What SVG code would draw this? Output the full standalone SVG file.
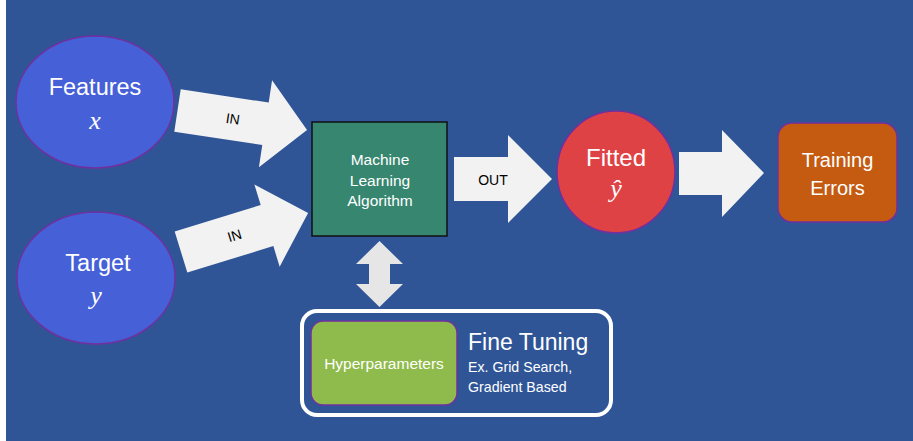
<svg xmlns="http://www.w3.org/2000/svg" width="913" height="441" viewBox="0 0 913 441">
<style>
  .lbl { font-family: "Liberation Sans", Arial, sans-serif; fill: #ffffff; text-anchor: middle; dominant-baseline: central; }
  .math { font-family: "Liberation Serif", "Times New Roman", serif; font-style: italic; fill: #ffffff; text-anchor: middle; dominant-baseline: central; }
  .arr { fill: #F2F2F2; }
  .arrtxt { font-family: "Liberation Sans", Arial, sans-serif; font-size: 14px; fill: #000000; text-anchor: middle; dominant-baseline: central; }
  .ell { fill: #4660D8; stroke: #7030A0; stroke-width: 1.5; }
</style>
<rect x="0" y="0" width="913" height="441" fill="#ffffff"/>
<rect x="6" y="0" width="907" height="441" fill="#2F5597"/>

<g id="connectors">
  <g transform="translate(177.5,110.5) rotate(8.6)">
    <polygon class="arr" points="0,-21.5 89,-21.5 89,-44 131,0 89,44 89,21.5 0,21.5"/>
    <text class="arrtxt" x="56" y="0">IN</text>
  </g>
  <g transform="translate(181,252) rotate(-17.1)">
    <polygon class="arr" points="0,-21.5 90,-21.5 90,-43 133,0 90,43 90,21.5 0,21.5"/>
    <text class="arrtxt" x="56" y="0">IN</text>
  </g>
  <polygon class="arr" points="454,157 508,157 508,135 552,179 508,223 508,201 454,201"/>
  <text class="arrtxt" x="493" y="180">OUT</text>
  <polygon class="arr" points="679,152 722,152 722,130 764,173 722,217 722,195 679,195"/>
  <polygon fill="#E7E6E6" points="379.5,241 403,264 390,264 390,284 403,284 379.5,307 356,284 369,284 369,264 356,264"/>
</g>

<g id="features">
  <ellipse class="ell" cx="95" cy="102" rx="79" ry="66"/>
  <text class="lbl" x="95" y="87" font-size="23.5">Features</text>
  <text class="math" x="95" y="120" font-size="26">x</text>
</g>

<g id="target">
  <ellipse class="ell" cx="96" cy="278" rx="79" ry="66"/>
  <text class="lbl" x="98" y="263" font-size="23.5">Target</text>
  <text class="math" x="96" y="295" font-size="26">y</text>
</g>

<g id="ml-algorithm">
  <rect x="312" y="122" width="135" height="114" fill="#378670" stroke="#111111" stroke-width="1.5"/>
  <text class="lbl" x="380" y="159" font-size="15.5">Machine</text>
  <text class="lbl" x="380" y="180" font-size="15.5">Learning</text>
  <text class="lbl" x="380" y="200" font-size="15.5">Algorithm</text>
</g>

<g id="fitted">
  <ellipse cx="616" cy="172" rx="59" ry="61" fill="#DE4245" stroke="#7030A0" stroke-width="1.5"/>
  <text class="lbl" x="616" y="157" font-size="24">Fitted</text>
  <text class="math" x="616" y="188" font-size="26">ŷ</text>
</g>

<g id="training-errors">
  <rect x="778" y="123" width="119" height="99" rx="14" fill="#C55A11" stroke="#7030A0" stroke-width="1.5"/>
  <text class="lbl" x="837.5" y="160" font-size="20">Training</text>
  <text class="lbl" x="837.5" y="188" font-size="20">Errors</text>
</g>

<g id="fine-tuning">
  <rect x="302" y="311" width="309" height="104" rx="15" fill="none" stroke="#ffffff" stroke-width="4"/>
  <text font-family="Liberation Sans, Arial, sans-serif" fill="#ffffff" dominant-baseline="central" x="468" y="342" font-size="23">Fine Tuning</text>
  <text font-family="Liberation Sans, Arial, sans-serif" fill="#ffffff" dominant-baseline="central" x="468" y="367" font-size="14.2">Ex. Grid Search,</text>
  <text font-family="Liberation Sans, Arial, sans-serif" fill="#ffffff" dominant-baseline="central" x="468" y="387" font-size="14.2">Gradient Based</text>
</g>

<g id="hyperparameters">
  <rect x="311" y="321" width="146" height="84" rx="12" fill="#8FBB4C" stroke="#7030A0" stroke-width="1.5"/>
  <text class="lbl" x="384" y="363" font-size="15.5">Hyperparameters</text>
</g>
</svg>
